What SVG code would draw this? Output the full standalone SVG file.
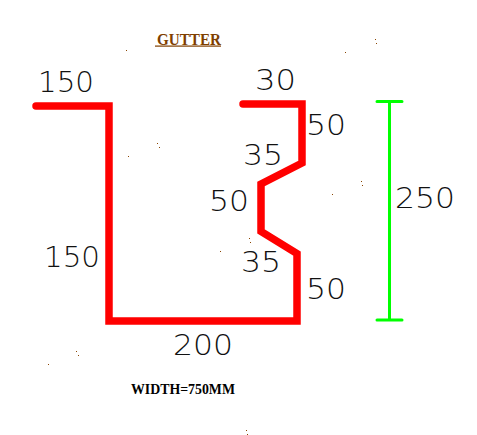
<svg xmlns="http://www.w3.org/2000/svg" width="477" height="435" viewBox="0 0 477 435">
<style>
.dim{font-family:"DejaVu Sans",sans-serif;font-weight:200;font-size:27.500px;fill:#111}
.red{fill:none;stroke:#f00;stroke-width:7.500;stroke-linejoin:miter;stroke-linecap:round}
.grn{fill:none;stroke:#0f0;stroke-width:3;stroke-linecap:round}
.speck{fill:#8a4500}
</style>
<rect width="477" height="435" fill="#fff"/>
<g id="connectors">
<path class="red" d="M36 106H109V321H297V253.500L261 231.500V184L302 163V104H243"/>
<path class="grn" d="M377 101.500H402M389.500 101.500V320M377 320H402"/>
</g>
<g id="title"><text x="157" y="45" font-family="Liberation Serif,serif" font-weight="bold" font-size="16" fill="#7f3f00" textLength="64" lengthAdjust="spacingAndGlyphs">GUTTER</text><rect x="155" y="45.500" width="66" height="1.200" fill="#7f3f00"/></g>
<g id="width-note"><text x="131" y="394" font-family="Liberation Serif,serif" font-weight="bold" font-size="14" fill="#000" textLength="104" lengthAdjust="spacingAndGlyphs">WIDTH=750MM</text></g>
<g id="labels">
<text class="dim" x="38" y="92" textLength="56" lengthAdjust="spacingAndGlyphs">150</text>
<text class="dim" x="255" y="90" textLength="41" lengthAdjust="spacingAndGlyphs">30</text>
<text class="dim" x="306" y="135" textLength="40" lengthAdjust="spacingAndGlyphs">50</text>
<text class="dim" x="243" y="165" textLength="40" lengthAdjust="spacingAndGlyphs">35</text>
<text class="dim" x="209" y="211" textLength="40" lengthAdjust="spacingAndGlyphs">50</text>
<text class="dim" x="395" y="208" textLength="60" lengthAdjust="spacingAndGlyphs">250</text>
<text class="dim" x="44" y="267" textLength="56" lengthAdjust="spacingAndGlyphs">150</text>
<text class="dim" x="241" y="272" textLength="40" lengthAdjust="spacingAndGlyphs">35</text>
<text class="dim" x="306" y="299" textLength="40" lengthAdjust="spacingAndGlyphs">50</text>
<text class="dim" x="173" y="355" textLength="60" lengthAdjust="spacingAndGlyphs">200</text>
</g>
<g id="specks" class="speck">
<rect x="126" y="50" width="1" height="1"/><rect x="128" y="156" width="1" height="1"/><rect x="157" y="143" width="1" height="1"/><rect x="159" y="147" width="1" height="1"/><rect x="345" y="52" width="1" height="1"/><rect x="375" y="39" width="1" height="1"/><rect x="376" y="43" width="1" height="1"/><rect x="361" y="181" width="1" height="1"/><rect x="362" y="185" width="1" height="1"/><rect x="332" y="194" width="1" height="1"/><rect x="249" y="238" width="1" height="1"/><rect x="250" y="242" width="1" height="1"/><rect x="220" y="251" width="1" height="1"/><rect x="76" y="351" width="1" height="1"/><rect x="78" y="355" width="1" height="1"/><rect x="48" y="364" width="1" height="1"/><rect x="246" y="430" width="1" height="1"/><rect x="247" y="434" width="1" height="1"/>
</g>
</svg>
